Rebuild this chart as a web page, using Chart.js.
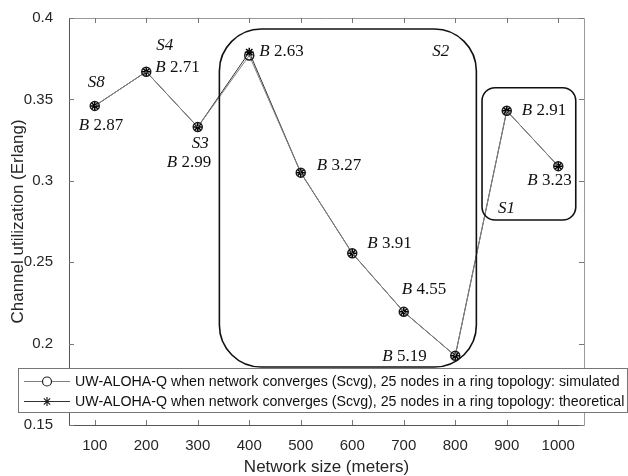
<!DOCTYPE html>
<html>
<head>
<meta charset="utf-8">
<script src="https://cdn.jsdelivr.net/npm/chart.js@4.4.1/dist/chart.umd.min.js"></script>
<style>
html, body { margin: 0; padding: 0; background: #fff; }
#wrap { width: 628px; height: 476px; }
</style>
</head>
<body>
<div id="wrap"><canvas id="myChart"></canvas></div>
<script>
'use strict'

// data

var sizes = [100, 200, 300, 400, 500, 600, 700, 800, 900, 1000];
var simulated = [0.346, 0.367, 0.333, 0.377, 0.305, 0.2555, 0.2195, 0.1925, 0.343, 0.309];
var theoretical = [0.346, 0.367, 0.333, 0.379, 0.305, 0.2555, 0.2195, 0.1925, 0.343, 0.309];
var bValues = ['2.87', '2.71', '2.99', '2.63', '3.27', '3.91', '4.55', '5.19', '2.91', '3.23'];
var xTicks = [100, 200, 300, 400, 500, 600, 700, 800, 900, 1000];
var yTicks = [0.15, 0.2, 0.25, 0.3, 0.35, 0.4];
var legendLabels = [
	'UW-ALOHA-Q when network converges (Scvg), 25 nodes in a ring topology: simulated',
	'UW-ALOHA-Q when network converges (Scvg), 25 nodes in a ring topology: theoretical'
];
// state labels next to points: [index, text]
var stateLabels = [[0, 'S8'], [1, 'S4'], [2, 'S3']];
// rounded regions in data units: [xmin, xmax, ymin, ymax, label]
var regions = [[342, 841, 0.1856, 0.3932, 'S2'], [852, 1034, 0.2759, 0.3572, 'S1']];

// label offsets in pixels from the point (left, baseline)
var bOffsets = [[-16, 24], [9, 0], [-31, 40], [10, 1], [16, -3], [15, -5], [-2, -18], [-73, 5], [15, 4], [-31, 19]];
var sOffsets = [[-7, -19], [10, -22], [-6, 21]];

var axisColor = '#262626';
var sans = '"Liberation Sans", Arial, sans-serif';
var serif = '"Liberation Serif", "Times New Roman", serif';

function toPoints(ys) {
	return sizes.map(function(x, i) { return { x: x, y: ys[i] }; });
}

function roundRect(ctx, x, y, w, h, r) {
	ctx.beginPath();
	ctx.moveTo(x + r, y);
	ctx.lineTo(x + w - r, y);
	ctx.arcTo(x + w, y, x + w, y + r, r);
	ctx.lineTo(x + w, y + h - r);
	ctx.arcTo(x + w, y + h, x + w - r, y + h, r);
	ctx.lineTo(x + r, y + h);
	ctx.arcTo(x, y + h, x, y + h - r, r);
	ctx.lineTo(x, y + r);
	ctx.arcTo(x, y, x + r, y, r);
	ctx.closePath();
}

function bLabel(ctx, text, x, y) {
	ctx.font = 'italic 17px ' + serif;
	ctx.fillText('B', x, y);
	var w = ctx.measureText('B').width;
	ctx.font = '17px ' + serif;
	ctx.fillText(' ' + text, x + w, y);
}

var extras = {
	id: 'extras',
	afterDatasetsDraw: function(chart) {
		var ctx = chart.ctx;
		var xs = chart.scales.x, ys = chart.scales.y;
		var a = chart.chartArea;
		ctx.save();

		// regions
		ctx.strokeStyle = '#111';
		ctx.lineWidth = 1.6;
		regions.forEach(function(r, k) {
			var x0 = xs.getPixelForValue(r[0]), x1 = xs.getPixelForValue(r[1]);
			var y0 = ys.getPixelForValue(r[3]), y1 = ys.getPixelForValue(r[2]);
			roundRect(ctx, x0, y0, x1 - x0, y1 - y0, k === 0 ? 42 : 13);
			ctx.stroke();
			ctx.fillStyle = '#111';
			ctx.font = 'italic 17px ' + serif;
			ctx.textBaseline = 'alphabetic';
			if (k === 0) ctx.fillText(r[4], x1 - 44, y0 + 27);
			else ctx.fillText(r[4], x0 + 16, y1 - 7);
		});

		// B and S labels
		ctx.fillStyle = '#111';
		ctx.textBaseline = 'alphabetic';
		sizes.forEach(function(s, i) {
			var px = xs.getPixelForValue(s), py = ys.getPixelForValue(simulated[i]);
			bLabel(ctx, bValues[i], px + bOffsets[i][0], py + bOffsets[i][1]);
		});
		stateLabels.forEach(function(l, k) {
			var i = l[0];
			var px = xs.getPixelForValue(sizes[i]), py = ys.getPixelForValue(simulated[i]);
			ctx.font = 'italic 17px ' + serif;
			ctx.fillText(l[1], px + sOffsets[k][0], py + sOffsets[k][1]);
		});

		// frame and inner ticks
		ctx.lineWidth = 1;
		ctx.strokeStyle = '#9a9a9a';
		ctx.beginPath();
		ctx.moveTo(a.left, a.top + 0.5); ctx.lineTo(a.right + 0.5, a.top + 0.5);
		ctx.lineTo(a.right + 0.5, a.bottom);
		ctx.stroke();
		ctx.strokeStyle = '#555';
		ctx.beginPath();
		ctx.moveTo(a.left + 0.5, a.top); ctx.lineTo(a.left + 0.5, a.bottom + 0.5);
		ctx.lineTo(a.right + 0.5, a.bottom + 0.5);
		ctx.stroke();
		ctx.strokeStyle = '#777';
		ctx.beginPath();
		xTicks.forEach(function(v) {
			var px = Math.round(xs.getPixelForValue(v)) + 0.5;
			ctx.moveTo(px, a.bottom); ctx.lineTo(px, a.bottom - 5);
			ctx.moveTo(px, a.top); ctx.lineTo(px, a.top + 5);
		});
		yTicks.forEach(function(v) {
			var py = Math.round(ys.getPixelForValue(v)) + 0.5;
			ctx.moveTo(a.left, py); ctx.lineTo(a.left + 5, py);
			ctx.moveTo(a.right, py); ctx.lineTo(a.right - 5, py);
		});
		ctx.stroke();

		// legend box
		var lx = 18.5, ly = 368.5, lw = 609, lh = 44;
		ctx.fillStyle = '#fff';
		ctx.fillRect(lx, ly, lw, lh);
		ctx.strokeStyle = '#777';
		ctx.strokeRect(lx, ly, lw, lh);
		ctx.font = '14.2px ' + sans;
		ctx.textBaseline = 'middle';
		legendLabels.forEach(function(t, k) {
			var y = ly + 13 + k * 20;
			var ds = chart.data.datasets[k];
			ctx.strokeStyle = ds.borderColor;
			ctx.lineWidth = 1;
			ctx.beginPath();
			ctx.moveTo(24, y); ctx.lineTo(70, y);
			ctx.stroke();
			ctx.strokeStyle = '#222';
			ctx.lineWidth = 1.2;
			Chart.helpers.drawPoint(ctx, {
				pointStyle: ds.pointStyle, radius: 4.5, rotation: 0, borderWidth: 1.2
			}, 47, y);
			ctx.fillStyle = '#111';
			ctx.fillText(t, 75, y + 1);
		});
		ctx.restore();
	}
};

var ctx = document.getElementById('myChart').getContext('2d');

var chart = new Chart(ctx, {
	type: 'line',
	data: {
		datasets: [{
			label: legendLabels[0],
			data: toPoints(simulated),
			borderColor: '#808080',
			backgroundColor: 'rgba(0,0,0,0)',
			pointBorderColor: '#1a1a1a',
			borderWidth: 1,
			pointStyle: 'circle',
			pointRadius: 4.5,
			pointBorderWidth: 1.5,
		},
		{
			label: legendLabels[1],
			data: toPoints(theoretical),
			borderColor: '#333',
			backgroundColor: 'rgba(0,0,0,0)',
			pointBorderColor: '#000',
			borderWidth: 1,
			pointStyle: 'star',
			pointRadius: 4.5,
			pointBorderWidth: 1.5,
		}]
	},
	options: {
		responsive: true,
		maintainAspectRatio: false,
		animation: false,
		devicePixelRatio: 1,
		layout: { padding: { left: 0, top: 18, right: 44, bottom: 0 } },
		plugins: { legend: { display: false }, tooltip: { enabled: false } },
		scales: {
			x: {
				type: 'linear',
				min: 50,
				max: 1050,
				afterBuildTicks: function(scale) {
					scale.ticks = xTicks.map(function(v) { return { value: v }; });
				},
				afterFit: function(scale) { scale.height = 51; },
				grid: { display: false },
				border: { display: false },
				ticks: {
					color: axisColor,
					padding: 4,
					maxRotation: 0,
					font: { family: sans, size: 15 },
					callback: function(v) { return String(v); }
				},
				title: {
					display: true,
					text: 'Network size (meters)',
					color: axisColor,
					padding: { top: 0, bottom: -2 },
					font: { family: sans, size: 17 }
				}
			},
			y: {
				min: 0.15,
				max: 0.4,
				afterBuildTicks: function(scale) {
					scale.ticks = yTicks.map(function(v) { return { value: v }; });
				},
				afterFit: function(scale) { scale.width = 69; },
				grid: { display: false },
				border: { display: false },
				ticks: {
					color: axisColor,
					padding: 8,
					font: { family: sans, size: 15 },
					callback: function(v) { return String(Math.round(v * 100) / 100); }
				},
				title: {
					display: true,
					text: 'Channel utilization (Erlang)',
					color: axisColor,
					padding: { top: 8, bottom: 0 },
					font: { family: sans, size: 17 }
				}
			}
		}
	},
	plugins: [extras]
});
</script>
</body>
</html>
